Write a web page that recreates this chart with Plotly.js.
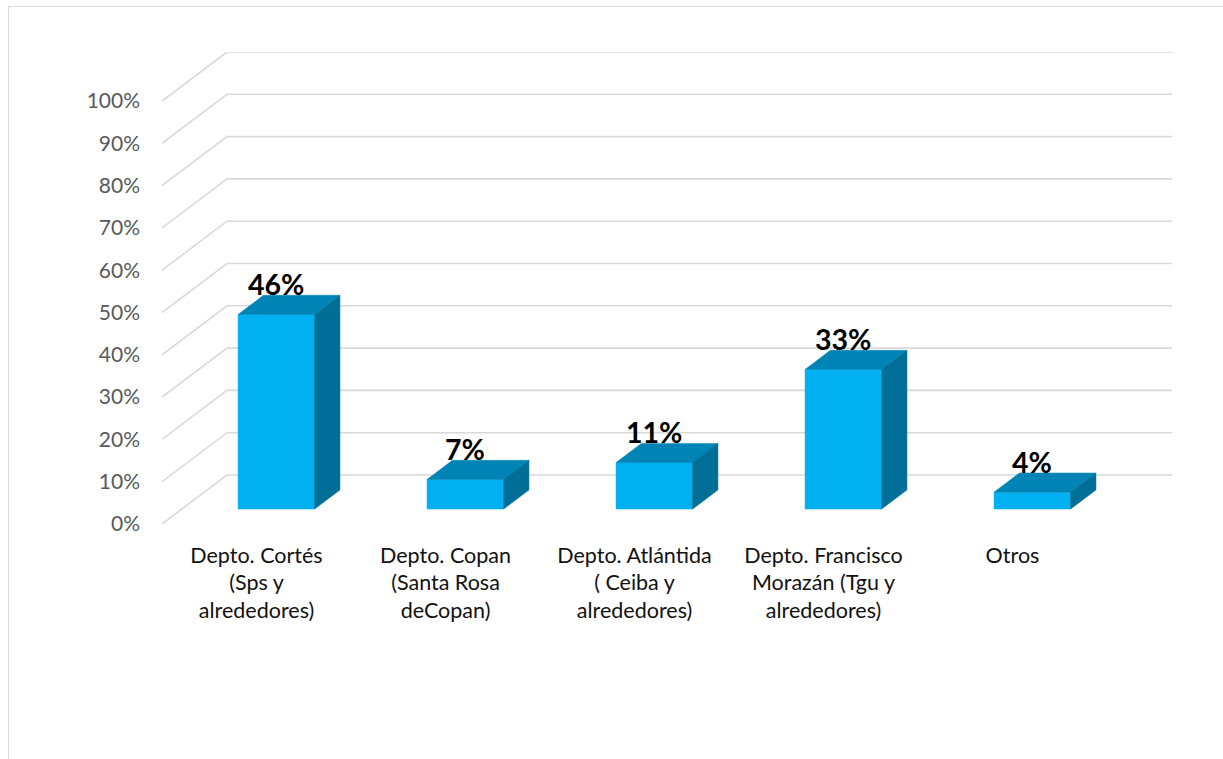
<!DOCTYPE html>
<html>
<head>
<meta charset="utf-8">
<script src="https://cdn.plot.ly/plotly-3.0.1.min.js"></script>
<style>
  html, body { margin: 0; padding: 0; background: #ffffff; }
  #chart { position: absolute; left: 0; top: 0; width: 1223px; height: 759px; }
  #frame { position: absolute; left: 8px; top: 6px; width: 1240px; height: 780px;
           border: 1.5px solid #d9d9d9; pointer-events: none; box-sizing: border-box; }
</style>
</head>
<body>
<div id="chart"></div>
<div id="frame"></div>
<script>
// ---- data ----
const categories = [
  "Depto. Cortés<br>(Sps y<br>alrededores)",
  "Depto. Copan<br>(Santa Rosa<br>deCopan)",
  "Depto. Atlántida<br>( Ceiba y<br>alrededores)",
  "Depto. Francisco<br>Morazán (Tgu y<br>alrededores)",
  "Otros"
];
const values = [46, 7, 11, 33, 4];
const valueLabels = ["46%", "7%", "11%", "33%", "4%"];
const yTickValues = [0, 10, 20, 30, 40, 50, 60, 70, 80, 90, 100];
const yTickLabels = ["0%", "10%", "20%", "30%", "40%", "50%", "60%", "70%", "80%", "90%", "100%"];

// ---- 3D projection style (not data) ----
const DX = 0.344;      // depth offset in category units
const DY = 11.58;      // depth offset in % units
const F0 = 0.305, F1 = 0.695; // bar front / back depth fractions
const BW = 0.405;      // bar width in category units
const N = categories.length;
const centers = categories.map((_, i) => i + 0.5);

const traces = [];

// gridlines (diagonal on side + horizontal on back wall)
const gx = [], gy = [];
yTickValues.forEach(v => {
  gx.push(0, DX, N + DX, null);
  gy.push(v, v + DY, v + DY, null);
});
traces.push({
  type: 'scatter', mode: 'lines', x: gx, y: gy,
  line: { color: '#d9d9d9', width: 1.6 }, hoverinfo: 'skip', showlegend: false
});

const FRONT = '#00b0f0', TOP = '#0084b6', SIDE = '#006f98';
values.forEach((v, i) => {
  const c = centers[i];
  const ox = F0 * DX, oy = F0 * DY;
  const bx = (F1 - F0) * DX, by = (F1 - F0) * DY;
  const xl = c + ox - BW / 2, xr = c + ox + BW / 2;
  const yb = oy, yt = oy + v;
  traces.push({
    type: 'scatter', mode: 'lines', fill: 'toself', fillcolor: FRONT,
    x: [xl, xr, xr, xl, xl], y: [yb, yb, yt, yt, yb],
    line: { color: FRONT, width: 0.5 }, hoverinfo: 'skip', showlegend: false
  });
  traces.push({
    type: 'scatter', mode: 'lines', fill: 'toself', fillcolor: TOP,
    x: [xl, xr, xr + bx, xl + bx, xl], y: [yt, yt, yt + by, yt + by, yt],
    line: { color: TOP, width: 0.5 }, hoverinfo: 'skip', showlegend: false
  });
  traces.push({
    type: 'scatter', mode: 'lines', fill: 'toself', fillcolor: SIDE,
    x: [xr, xr + bx, xr + bx, xr, xr], y: [yb, yb + by, yt + by, yt, yb],
    line: { color: SIDE, width: 0.5 }, hoverinfo: 'skip', showlegend: false
  });
});

const annotations = values.map((v, i) => ({
  x: centers[i] + F0 * DX, y: v + F1 * DY, xref: 'x', yref: 'y',
  text: valueLabels[i], showarrow: false, yanchor: 'bottom', xanchor: 'center',
  yshift: -7, borderpad: 0,
  font: { family: 'Lato, sans-serif', size: 28.5, color: '#000000', weight: 'bold' }
}));

const layout = {
  width: 1223, height: 759,
  margin: { l: 162, r: 51, t: 52, b: 235, pad: 0 },
  paper_bgcolor: 'rgba(0,0,0,0)', plot_bgcolor: 'rgba(0,0,0,0)',
  showlegend: false,
  xaxis: {
    range: [0, N + DX], showgrid: false, zeroline: false, showline: false,
    tickmode: 'array', tickvals: centers, ticktext: categories,
    ticks: '', ticklabelstandoff: 16,
    tickfont: { family: 'Lato, sans-serif', size: 21.5, color: '#111111' },
    fixedrange: true
  },
  yaxis: {
    range: [0, 100 + DY], showgrid: false, zeroline: false, showline: false,
    tickmode: 'array', tickvals: yTickValues, ticktext: yTickLabels,
    ticks: '', ticklabelstandoff: 21,
    tickfont: { family: 'Lato, sans-serif', size: 21, color: '#595959' },
    fixedrange: true
  },
  annotations: annotations
};

Plotly.newPlot('chart', traces, layout, { displayModeBar: false, staticPlot: true });
</script>
</body>
</html>
